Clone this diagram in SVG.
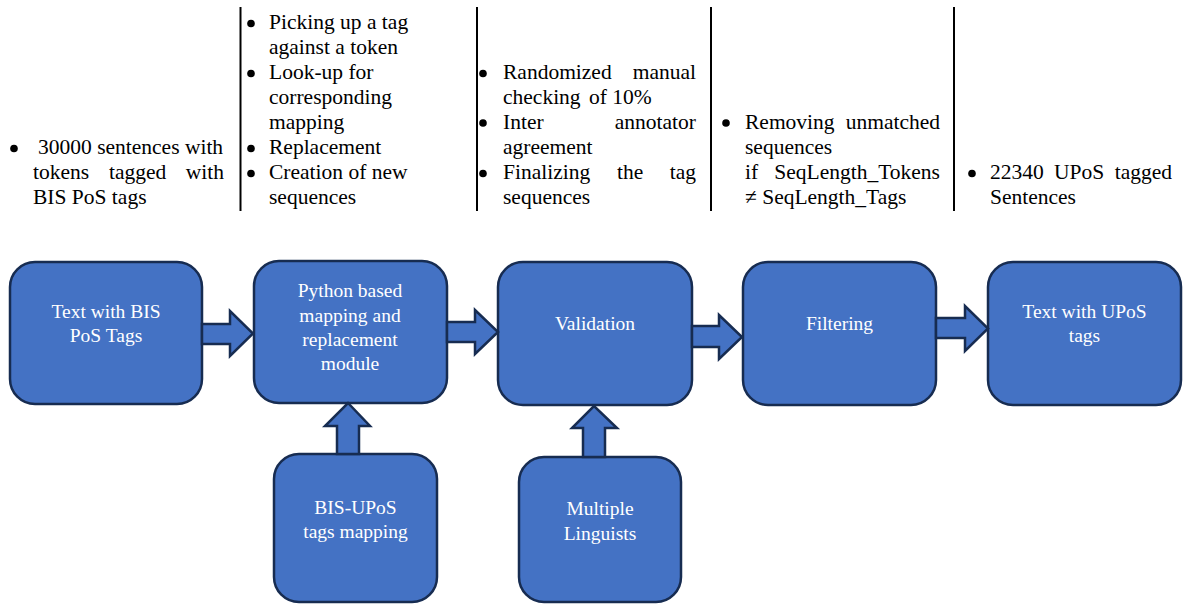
<svg xmlns="http://www.w3.org/2000/svg" width="1184" height="604" viewBox="0 0 1184 604">
<style>
.box{fill:#4472C4;stroke:#172C51;stroke-width:2.5}
.arr{fill:#4472C4;stroke:#172C51;stroke-width:2.5;stroke-linejoin:miter}
.bt{font-family:'Liberation Serif','Times New Roman',Times,serif;font-size:19.5px;fill:#FFFFFF;text-anchor:middle}
.tt{font-family:'Liberation Serif','Times New Roman',Times,serif;font-size:21.5px;fill:#000000}
.bu{fill:#000000}
.e{text-anchor:end}
.sep{stroke:#000000;stroke-width:2}
</style>
<rect width="1184" height="604" fill="#FFFFFF"/>
<g id="notes">
  <line class="sep" x1="240.5" y1="7" x2="240.5" y2="211"/>
  <line class="sep" x1="477" y1="7" x2="477" y2="211"/>
  <line class="sep" x1="711" y1="7" x2="711" y2="211"/>
  <line class="sep" x1="954" y1="7" x2="954" y2="211"/>
  <circle class="bu" cx="14" cy="148.5" r="3.8"/>
  <text class="tt" x="38" y="154">30000 sentences with</text>
  <text class="tt" x="33" y="179">tokens</text>
  <text class="tt" x="109" y="179">tagged</text>
  <text class="tt e" x="224" y="179">with</text>
  <text class="tt" x="33" y="203.5">BIS PoS tags</text>
  <circle class="bu" cx="251" cy="23.5" r="3.8"/>
  <text class="tt" x="269" y="29">Picking up a tag</text>
  <text class="tt" x="269" y="54">against a token</text>
  <circle class="bu" cx="251" cy="73.5" r="3.8"/>
  <text class="tt" x="269" y="79">Look-up for</text>
  <text class="tt" x="269" y="104">corresponding</text>
  <text class="tt" x="269" y="128.5">mapping</text>
  <circle class="bu" cx="251" cy="148.5" r="3.8"/>
  <text class="tt" x="269" y="154">Replacement</text>
  <circle class="bu" cx="251" cy="173.5" r="3.8"/>
  <text class="tt" x="269" y="179">Creation of new</text>
  <text class="tt" x="269" y="203.5">sequences</text>
  <circle class="bu" cx="483" cy="73.5" r="3.8"/>
  <text class="tt" x="503" y="79">Randomized</text>
  <text class="tt e" x="696" y="79">manual</text>
  <text class="tt" x="503" y="104">checking</text>
  <text class="tt" x="589" y="104">of 10%</text>
  <circle class="bu" cx="483" cy="123" r="3.8"/>
  <text class="tt" x="503" y="128.5">Inter</text>
  <text class="tt e" x="696" y="128.5">annotator</text>
  <text class="tt" x="503" y="154">agreement</text>
  <circle class="bu" cx="483" cy="173.5" r="3.8"/>
  <text class="tt" x="503" y="179">Finalizing</text>
  <text class="tt" x="617" y="179">the</text>
  <text class="tt e" x="696" y="179">tag</text>
  <text class="tt" x="503" y="203.5">sequences</text>
  <circle class="bu" cx="726" cy="123" r="3.8"/>
  <text class="tt" x="745" y="128.5">Removing</text>
  <text class="tt e" x="940" y="128.5">unmatched</text>
  <text class="tt" x="745" y="154">sequences</text>
  <text class="tt" x="745" y="179">if</text>
  <text class="tt e" x="940" y="179">SeqLength_Tokens</text>
  <text class="tt" x="745" y="203.5">≠ SeqLength_Tags</text>
  <circle class="bu" cx="972" cy="173.5" r="3.8"/>
  <text class="tt" x="990" y="179">22340</text>
  <text class="tt" x="1054" y="179">UPoS</text>
  <text class="tt e" x="1172" y="179">tagged</text>
  <text class="tt" x="990" y="203.5">Sentences</text>
</g>
<g id="n1">
  <rect class="box" x="10" y="262" width="192" height="142" rx="25"/>
  <text class="bt" x="106" y="318">Text with BIS</text>
  <text class="bt" x="106" y="342">PoS Tags</text>
</g>
<g id="n2">
  <rect class="box" x="254" y="261" width="193" height="142" rx="25"/>
  <text class="bt" x="350" y="297">Python based</text>
  <text class="bt" x="350" y="321.5">mapping and</text>
  <text class="bt" x="350" y="346">replacement</text>
  <text class="bt" x="350" y="370">module</text>
</g>
<g id="n3">
  <rect class="box" x="498" y="262" width="194" height="143" rx="25"/>
  <text class="bt" x="595" y="330">Validation</text>
</g>
<g id="n4">
  <rect class="box" x="743" y="262" width="193" height="143" rx="25"/>
  <text class="bt" x="839.5" y="330">Filtering</text>
</g>
<g id="n5">
  <rect class="box" x="988" y="262" width="193" height="143" rx="25"/>
  <text class="bt" x="1084.5" y="318">Text with UPoS</text>
  <text class="bt" x="1084.5" y="342">tags</text>
</g>
<g id="n6">
  <rect class="box" x="274" y="454" width="163" height="148" rx="25"/>
  <text class="bt" x="355.5" y="514">BIS-UPoS</text>
  <text class="bt" x="355.5" y="538">tags mapping</text>
</g>
<g id="n7">
  <rect class="box" x="519" y="457" width="162" height="145" rx="25"/>
  <text class="bt" x="600" y="515">Multiple</text>
  <text class="bt" x="600" y="540">Linguists</text>
</g>
<g id="connectors">
  <polygon class="arr" points="202,324 230,324 230,311 253,333.5 230,356 230,344 202,344"/>
  <polygon class="arr" points="447,322 475,322 475,310 498,332 475,354 475,342 447,342"/>
  <polygon class="arr" points="692,326 719,326 719,315 742,337 719,359 719,347 692,347"/>
  <polygon class="arr" points="936,318 965,318 965,306 988,328.5 965,351 965,338 936,338"/>
  <polygon class="arr" points="337,454 337,426 325,426 348,403 370,426 359,426 359,454"/>
  <polygon class="arr" points="583,457 583,428 572,428 594,406 617,428 605,428 605,457"/>
</g>
</svg>
